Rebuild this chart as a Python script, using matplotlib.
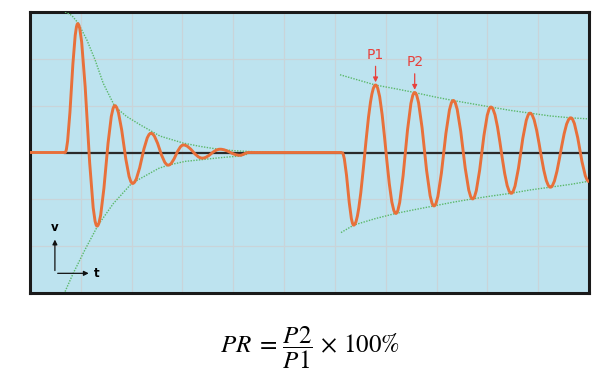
import matplotlib.pyplot as plt
from matplotlib.path import Path
from matplotlib.patches import PathPatch

# extrema of the ringing waveform (time, amplitude)
burst1_t = [0.0, 0.69, 0.94, 1.32, 1.67, 2.02, 2.38, 2.72, 3.02, 3.39, 3.74, 4.13, 4.30, 6.14]
burst1_v = [0.0, 0.0, 2.75, -1.57, 1.00, -0.66, 0.41, -0.27, 0.16, -0.12, 0.07, -0.06, 0.0, 0.0]
burst2_t = [6.14, 6.37, 6.80, 7.20, 7.57, 7.95, 8.33, 8.71, 9.07, 9.47, 9.84, 10.24, 10.64, 11.0]
burst2_v = [0.0, -1.55, 1.44, -1.30, 1.28, -1.14, 1.11, -0.99, 0.97, -0.87, 0.84, -0.74, 0.74, -0.62]

# dotted envelopes
env1_up_t = [0.69, 0.82, 0.95, 1.12, 1.28, 1.44, 1.67, 1.90, 2.17, 2.56, 3.02, 3.35, 3.67, 4.00, 4.33, 4.80, 5.31]
env1_up_v = [3.0, 2.93, 2.76, 2.40, 1.98, 1.48, 0.98, 0.77, 0.59, 0.35, 0.20, 0.13, 0.075, 0.04, 0.02, 0.005, 0.0]
env1_lo_t = [0.69, 0.85, 1.08, 1.34, 1.64, 2.00, 2.53, 2.72, 3.05, 3.40, 3.75, 4.13, 4.30]
env1_lo_v = [-2.97, -2.58, -2.08, -1.55, -1.09, -0.66, -0.34, -0.27, -0.19, -0.15, -0.11, -0.075, -0.03]
env2_up_t = [6.10, 6.45, 6.80, 7.20, 7.57, 7.95, 8.33, 8.70, 9.07, 9.45, 9.84, 10.24, 10.64, 10.96]
env2_up_v = [1.66, 1.55, 1.44, 1.36, 1.28, 1.19, 1.11, 1.04, 0.97, 0.90, 0.84, 0.78, 0.74, 0.72]
env2_lo_t = [6.12, 6.37, 6.80, 7.20, 7.57, 7.95, 8.33, 8.71, 9.07, 9.47, 9.84, 10.24, 10.64, 10.96]
env2_lo_v = [-1.71, -1.55, -1.41, -1.30, -1.22, -1.14, -1.06, -0.99, -0.93, -0.87, -0.80, -0.74, -0.68, -0.62]

peak_labels = ['P1', 'P2']
peak_t = [6.80, 7.57]
peak_v = [1.44, 1.28]

ORANGE = '#e8703a'
GREEN = '#5bb86a'
RED = '#e8413c'


def smooth_path(ts, vs, k=0.38):
    # cubic segments with flat tangents at every listed extremum
    verts = [(ts[0], vs[0])]
    codes = [Path.MOVETO]
    for i in range(1, len(ts)):
        dt = ts[i] - ts[i - 1]
        verts += [(ts[i - 1] + k * dt, vs[i - 1]), (ts[i] - k * dt, vs[i]), (ts[i], vs[i])]
        codes += [Path.CURVE4] * 3
    return Path(verts, codes)


fig = plt.figure(figsize=(6.13, 3.76), dpi=100)
ax = fig.add_axes([30 / 613, 83 / 376, 559 / 613, 281 / 376])
ax.set_facecolor('#bde3ef')
ax.set_xlim(0, 11)
ax.set_ylim(-3, 3)
ax.set_xticks(range(1, 11))
ax.set_yticks([-2, -1, 1, 2])
ax.grid(True, color='#c9d4d9', lw=0.9)
ax.tick_params(length=0, labelbottom=False, labelleft=False)
for s in ax.spines.values():
    s.set_linewidth(2.2)
    s.set_color('#1a1a1a')

# zero line
ax.plot([0.69, 11], [0, 0], color='#2a2a2a', lw=1.6, zorder=2)

# envelopes
for et, ev in [(env1_up_t, env1_up_v), (env1_lo_t, env1_lo_v),
               (env2_up_t, env2_up_v), (env2_lo_t, env2_lo_v)]:
    ax.plot(et, ev, color=GREEN, lw=1.0, ls=(0, (1, 1)), zorder=3)

# waveform
ax.add_patch(PathPatch(smooth_path(burst1_t, burst1_v), fill=False, ec=ORANGE, lw=2.1, zorder=4))
ax.add_patch(PathPatch(smooth_path(burst2_t, burst2_v), fill=False, ec=ORANGE, lw=2.1, zorder=4))

# peak markers
for lab, pt, pv in zip(peak_labels, peak_t, peak_v):
    ax.annotate('', xy=(pt, pv), xytext=(pt, pv + 0.46),
                arrowprops=dict(arrowstyle='-|>', color=RED, lw=0.9, mutation_scale=7), zorder=5)
    ax.text(pt, pv + 0.5, lab, color=RED, fontsize=10, ha='center', va='bottom', zorder=5)

# v / t axis glyph
ax.annotate('', xy=(0.49, -1.80), xytext=(0.49, -2.58),
            arrowprops=dict(arrowstyle='-|>', color='#111111', lw=0.9, mutation_scale=7))
ax.annotate('', xy=(1.21, -2.58), xytext=(0.49, -2.58),
            arrowprops=dict(arrowstyle='-|>', color='#111111', lw=0.9, mutation_scale=7))
ax.text(0.49, -1.75, 'v', fontsize=8.5, ha='center', va='bottom', fontweight='bold')
ax.text(1.25, -2.58, 't', fontsize=8.5, ha='left', va='center', fontweight='bold')

plt.rcParams['mathtext.fontset'] = 'stix'
fig.text(0.506, 0.076, r'$PR\;=\,\dfrac{P2}{P1}\,\times\,100\%$', fontsize=18, ha='center', va='center')

fig.savefig('out.png', dpi=100)
